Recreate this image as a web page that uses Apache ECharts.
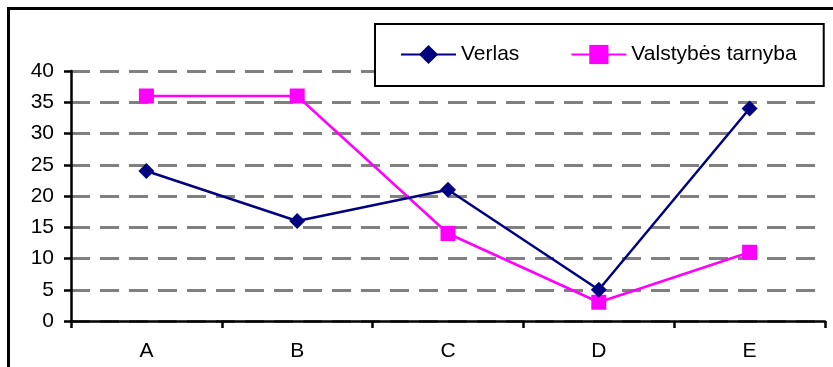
<!DOCTYPE html>
<html>
<head>
<meta charset="utf-8">
<script src="https://cdn.jsdelivr.net/npm/echarts@6/dist/echarts.min.js"></script>
<style>
html,body{margin:0;padding:0;background:#fff;}
#chart{width:833px;height:367px;}
</style>
</head>
<body>
<div id="chart"></div>
<script>
const categories = ['A', 'B', 'C', 'D', 'E'];
const verlas = [24, 16, 21, 5, 34];
const valstybes = [36, 36, 14, 3, 11];
const seriesNames = ['Verlas', 'Valstybės tarnyba'];
const yTicks = { min: 0, max: 40, interval: 5 };

const FONT = 'Liberation Sans';
const chart = echarts.init(document.getElementById('chart'), null, { renderer: 'canvas' });
chart.setOption({
  animation: false,
  backgroundColor: '#ffffff',
  textStyle: { fontFamily: FONT },
  graphic: [{
    type: 'rect',
    z: 0,
    shape: { x: 8.5, y: 8.5, width: 1000, height: 1000 },
    style: { fill: 'none', stroke: '#000', lineWidth: 3 }
  }],
  grid: { left: 71, right: 8, top: 71, bottom: 46, containLabel: false },
  legend: {
    left: 375,
    top: 24,
    width: 452,
    padding: [20, 27, 21, 25],
    backgroundColor: '#fff',
    borderColor: '#000',
    borderWidth: 2,
    itemWidth: 55,
    itemHeight: 24,
    itemGap: 51,
    textStyle: { fontFamily: FONT, fontSize: 21, color: '#000', padding: [0, 0, 0, 0], lineHeight: 21 },
    data: seriesNames
  },
  xAxis: {
    type: 'category',
    data: categories,
    boundaryGap: true,
    axisLine: { lineStyle: { color: '#000', width: 2.5 } },
    axisTick: { show: true, alignWithLabel: false, length: 7, lineStyle: { color: '#000', width: 2.5 } },
    axisLabel: { color: '#000', fontFamily: FONT, fontSize: 21, margin: 20 },
    splitLine: { show: false }
  },
  yAxis: {
    type: 'value',
    min: yTicks.min,
    max: yTicks.max,
    interval: yTicks.interval,
    axisLine: { show: true, lineStyle: { color: '#000', width: 2.5 } },
    axisTick: { show: true, length: 7, lineStyle: { color: '#000', width: 2.5 } },
    axisLabel: { color: '#000', fontFamily: FONT, fontSize: 21, margin: 17 },
    splitLine: { show: true, lineStyle: { color: '#808080', width: 3, type: [19, 10] } }
  },
  series: [
    {
      name: seriesNames[0],
      type: 'line',
      data: verlas,
      symbol: 'diamond',
      symbolSize: 16,
      itemStyle: { color: '#000080' },
      lineStyle: { color: '#000080', width: 2.5 },
      z: 3
    },
    {
      name: seriesNames[1],
      type: 'line',
      data: valstybes,
      symbol: 'rect',
      symbolSize: 15,
      itemStyle: { color: '#ff00ff' },
      lineStyle: { color: '#ff00ff', width: 2.5 },
      z: 2
    }
  ]
});
</script>
</body>
</html>
